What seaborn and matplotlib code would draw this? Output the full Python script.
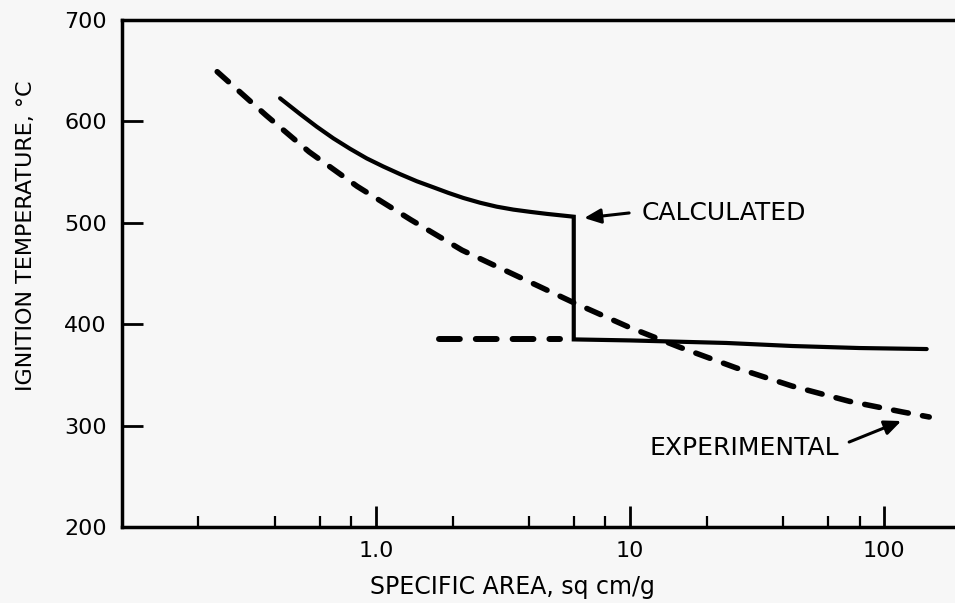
import matplotlib
matplotlib.use("Agg")
import matplotlib.pyplot as plt
from matplotlib.ticker import FixedLocator, FixedFormatter, NullFormatter
import pandas as pd
import seaborn as sns

# Calculated ignition temperature: curved branch, jump, flat branch
calc_area = [0.419, 0.502, 0.584, 0.679, 0.790, 0.919, 1.068, 1.243, 1.446,
             1.681, 1.926, 2.206, 2.566, 2.985, 3.472, 4.04, 4.70, 6.0,
             6.0, 10.0, 23.9, 43.4, 79.8, 147.0]
calc_temp = [622.8, 607.3, 594.8, 583.3, 573.0, 563.5, 555.5, 548.0, 541.0,
             535.0, 529.5, 524.5, 519.8, 515.9, 513.0, 510.8, 508.8, 506.0,
             385.0, 384.0, 381.5, 378.5, 376.5, 375.5]

# Flat calculated branch carried back toward smaller areas
calc_ext_area = [1.77, 5.3]
calc_ext_temp = [385, 385]

# Experimental ignition temperature
exp_area = [0.237, 0.369, 0.545, 0.842, 1.37, 2.18, 3.66, 5.91, 9.91,
            15.6, 26.1, 43.4, 72.8, 117.7, 150.4]
exp_temp = [649, 606, 570, 536, 503, 473, 446.5, 422, 397,
            377.5, 357, 339, 324, 313.5, 308.5]

# Axis ticks
x_major = [1, 10, 100]
x_major_labels = ["1.0", "10", "100"]
x_minor = [0.2, 0.4, 0.6, 0.8, 2, 4, 6, 8, 20, 40, 60, 80]
y_ticks = [200, 300, 400, 500, 600, 700]

BG = "#f7f7f7"
sns.set_theme(style="white", rc={"axes.facecolor": BG, "figure.facecolor": BG})
plt.rcParams["font.family"] = ["DejaVu Sans"]
plt.rcParams["lines.scale_dashes"] = False
plt.rcParams["text.color"] = "black"
plt.rcParams["axes.labelcolor"] = "black"
plt.rcParams["xtick.color"] = "black"
plt.rcParams["ytick.color"] = "black"

fig = plt.figure(figsize=(9.55, 6.03), dpi=100)
ax = fig.add_axes([122 / 955, 1 - 527 / 603, (955 - 122) / 955, (527 - 20) / 603])

calc_df = pd.DataFrame({"area": calc_area, "temp": calc_temp})
ext_df = pd.DataFrame({"area": calc_ext_area, "temp": calc_ext_temp})
exp_df = pd.DataFrame({"area": exp_area, "temp": exp_temp})

sns.lineplot(data=calc_df, x="area", y="temp", sort=False, estimator=None,
             color="black", lw=3.0, ax=ax,
             solid_capstyle="round", solid_joinstyle="miter")
sns.lineplot(data=ext_df, x="area", y="temp", sort=False, estimator=None,
             color="black", lw=4.3, ax=ax,
             linestyle=(0, (15, 11.5)), dash_capstyle="round")
sns.lineplot(data=exp_df, x="area", y="temp", sort=False, estimator=None,
             color="black", lw=4.0, ax=ax,
             linestyle=(0, (10.8, 10.4)), dash_capstyle="round",
             dash_joinstyle="round")

ax.set_xscale("log")
ax.set_xlim(0.1, 190)
ax.set_ylim(200, 700)

ax.xaxis.set_major_locator(FixedLocator(x_major))
ax.xaxis.set_major_formatter(FixedFormatter(x_major_labels))
ax.xaxis.set_minor_locator(FixedLocator(x_minor))
ax.xaxis.set_minor_formatter(NullFormatter())
ax.yaxis.set_major_locator(FixedLocator(y_ticks))
ax.yaxis.set_minor_locator(FixedLocator([]))

ax.tick_params(axis="both", which="major", direction="in", length=15, width=2.0,
               labelsize=16, colors="black")
ax.tick_params(axis="x", which="major", pad=10, bottom=True, top=False)
ax.tick_params(axis="x", which="minor", direction="in", length=8, width=1.6,
               bottom=True, top=False)
ax.tick_params(axis="y", which="major", pad=11, left=True, right=False)

for side in ("left", "bottom", "top"):
    ax.spines[side].set_linewidth(2.5)
    ax.spines[side].set_color("black")
ax.spines["right"].set_visible(False)

ax.set_xlabel("SPECIFIC AREA, sq cm/g", fontsize=17, color="black")
ax.set_ylabel("IGNITION TEMPERATURE, °C", fontsize=16, color="black")
ax.xaxis.set_label_coords(0.469, -0.095)
ax.yaxis.set_label_coords(-0.103, 0.574)

# Callouts
arrow_style = dict(arrowstyle="-|>,head_length=0.5,head_width=0.22",
                   mutation_scale=20, lw=2.2, color="black",
                   shrinkA=0, shrinkB=0)
ax.text(11.05, 509.7, "CALCULATED", fontsize=18, ha="left", va="center")
ax.annotate("", xy=(6.59, 504.7), xytext=(9.91, 509.7), arrowprops=arrow_style)
ax.text(66.5, 278, "EXPERIMENTAL", fontsize=18, ha="right", va="center")
ax.annotate("", xy=(116.7, 304.5), xytext=(72.8, 283.8), arrowprops=arrow_style)

fig.savefig("out.png", dpi=100, facecolor=BG)
